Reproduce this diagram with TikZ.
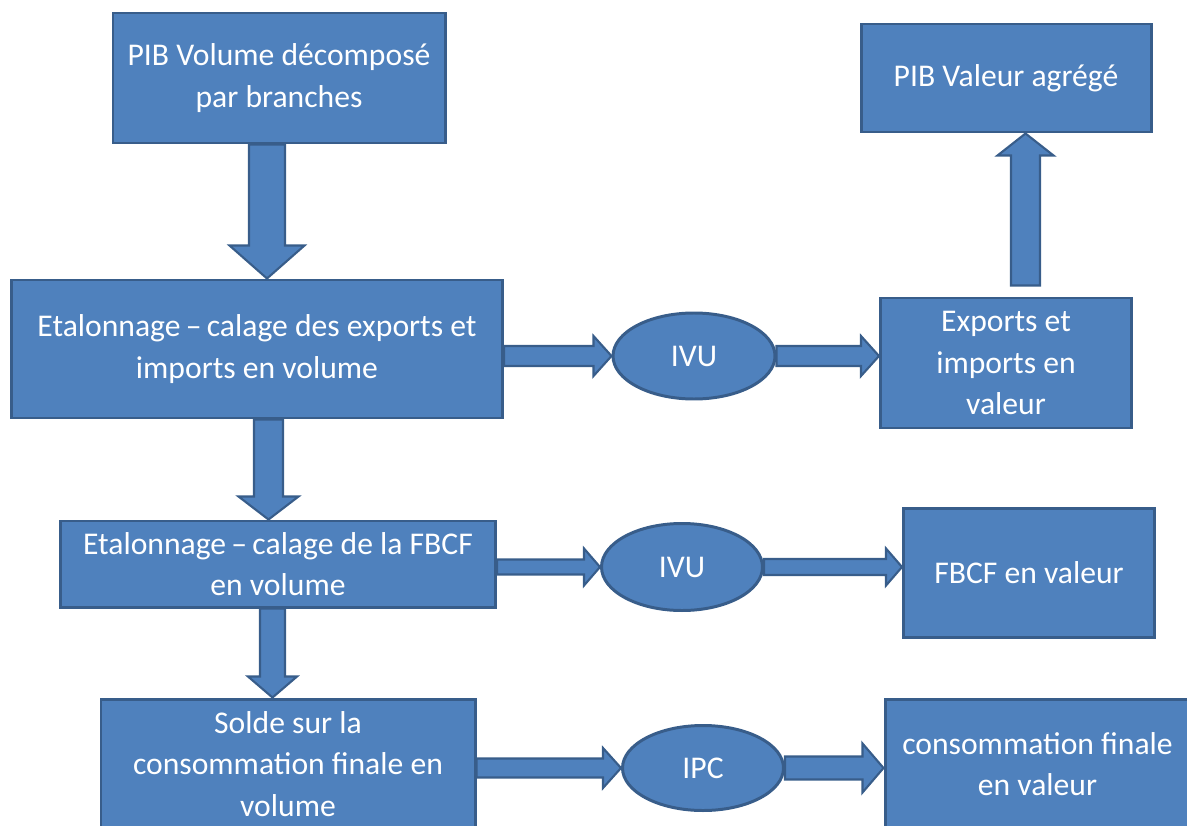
\documentclass[tikz,border=0pt]{standalone}
\usepackage{fontspec}
\setmainfont{Carlito}
\usepackage{xcolor}
\usepackage{tikz}
\usetikzlibrary{shapes.geometric}

\definecolor{boxfill}{HTML}{4F81BD}
\definecolor{boxline}{HTML}{385D8A}

\tikzset{
  box/.style={draw=boxline, fill=boxfill, line width=1.7pt, text=white, align=center,
    inner sep=0pt, font=\fontsize{18}{23.5}\selectfont},
  oval/.style={box, ellipse},
  flow/.style={draw=boxline, fill=boxfill, line width=1.2pt, line join=miter},
  % thick block arrows: shaft half width, head half width, head length
  fatright/.style n args={3}{to path={
      ([yshift=#1]\tikztostart) -- ([xshift=-#3,yshift=#1]\tikztotarget)
      -- ([xshift=-#3,yshift=#2]\tikztotarget) -- (\tikztotarget)
      -- ([xshift=-#3,yshift=-#2]\tikztotarget) -- ([xshift=-#3,yshift=-#1]\tikztotarget)
      -- ([yshift=-#1]\tikztostart) -- cycle}},
  fatdown/.style n args={3}{to path={
      ([xshift=-#1]\tikztostart) -- ([xshift=-#1,yshift=#3]\tikztotarget)
      -- ([xshift=-#2,yshift=#3]\tikztotarget) -- (\tikztotarget)
      -- ([xshift=#2,yshift=#3]\tikztotarget) -- ([xshift=#1,yshift=#3]\tikztotarget)
      -- ([xshift=#1]\tikztostart) -- cycle}},
  fatup/.style n args={3}{to path={
      ([xshift=-#1]\tikztostart) -- ([xshift=-#1,yshift=-#3]\tikztotarget)
      -- ([xshift=-#2,yshift=-#3]\tikztotarget) -- (\tikztotarget)
      -- ([xshift=#2,yshift=-#3]\tikztotarget) -- ([xshift=#1,yshift=-#3]\tikztotarget)
      -- ([xshift=#1]\tikztostart) -- cycle}},
}

\begin{document}
\begin{tikzpicture}
    \useasboundingbox (0, 0) rectangle (23.74, 16.5);

    % Volume side
    \node[box, minimum width=6.64cm, minimum height=2.6cm] (pibvol) at (5.58, 14.94)
      {PIB Volume décomposé\\par branches};
    \node[box, minimum width=9.82cm, minimum height=2.76cm] (etexp) at (5.14, 9.52)
      {Etalonnage\,–\,calage des exports et\\imports en volume};
    \node[box, minimum width=8.7cm, minimum height=1.72cm] (etfb) at (5.56, 5.22)
      {Etalonnage\,–\,calage de la FBCF\\en volume};
    \node[box, minimum width=7.48cm, minimum height=2.6cm] (solde) at (5.76, 1.22)
      {Solde sur la\\consommation finale en\\volume};

    % Price indices
    \node[oval, minimum width=3.24cm, minimum height=1.72cm] (ivua) at (13.88, 9.38) {IVU};
    \node[oval, minimum width=3.22cm, minimum height=1.74cm] (ivub) at (13.64, 5.16) {IVU};
    \node[oval, minimum width=3.22cm, minimum height=1.7cm] (ipc) at (14.06, 1.14) {IPC};

    % Value side
    \node[box, minimum width=5.8cm, minimum height=2.16cm] (pibval) at (20.12, 14.94)
      {PIB Valeur agrégé};
    \node[box, minimum width=5.02cm, minimum height=2.6cm] (exv) at (20.12, 9.24)
      {Exports et\\imports en\\valeur};
    \node[box, minimum width=5.02cm, minimum height=2.58cm] (fbv) at (20.58, 5.04)
      {FBCF en valeur};
    \node[box, minimum width=6.1cm, minimum height=2.6cm] (conv) at (20.75, 1.22)
      {consommation finale\\en valeur};

    % Vertical arrows
    \coordinate (d1) at ([xshift=-0.24cm]pibvol.south);
    \coordinate (d2) at ([xshift=0.23cm]etexp.south);
    \coordinate (d3) at ([xshift=-0.11cm]etfb.south);
    \coordinate (u1) at ([xshift=0.39cm, yshift=0.22cm]exv.north);
    \filldraw[flow, fatdown={0.36cm}{0.75cm}{0.66cm}] (d1) to (d1 |- etexp.north);
    \filldraw[flow, fatdown={0.29cm}{0.6cm}{0.46cm}] (d2) to (d2 |- etfb.north);
    \filldraw[flow, fatdown={0.25cm}{0.49cm}{0.42cm}] (d3) to (d3 |- solde.north);
    \filldraw[flow, fatup={0.29cm}{0.56cm}{0.44cm}] (u1) to (u1 |- pibval.south);

    % Horizontal arrows
    \filldraw[flow, fatright={0.2cm}{0.4cm}{0.36cm}] (etexp.east |- ivua.west) to (ivua.west);
    \filldraw[flow, fatright={0.2cm}{0.4cm}{0.36cm}] (ivua.east) to (exv.west |- ivua.east);
    \filldraw[flow, fatright={0.15cm}{0.37cm}{0.32cm}] (etfb.east |- ivub.west) to (ivub.west);
    \filldraw[flow, fatright={0.16cm}{0.37cm}{0.32cm}] (ivub.east) to (fbv.west |- ivub.east);
    \filldraw[flow, fatright={0.19cm}{0.4cm}{0.36cm}] (solde.east |- ipc.west) to (ipc.west);
    \filldraw[flow, fatright={0.23cm}{0.49cm}{0.42cm}] (ipc.east) to (conv.west |- ipc.east);
\end{tikzpicture}
\end{document}
